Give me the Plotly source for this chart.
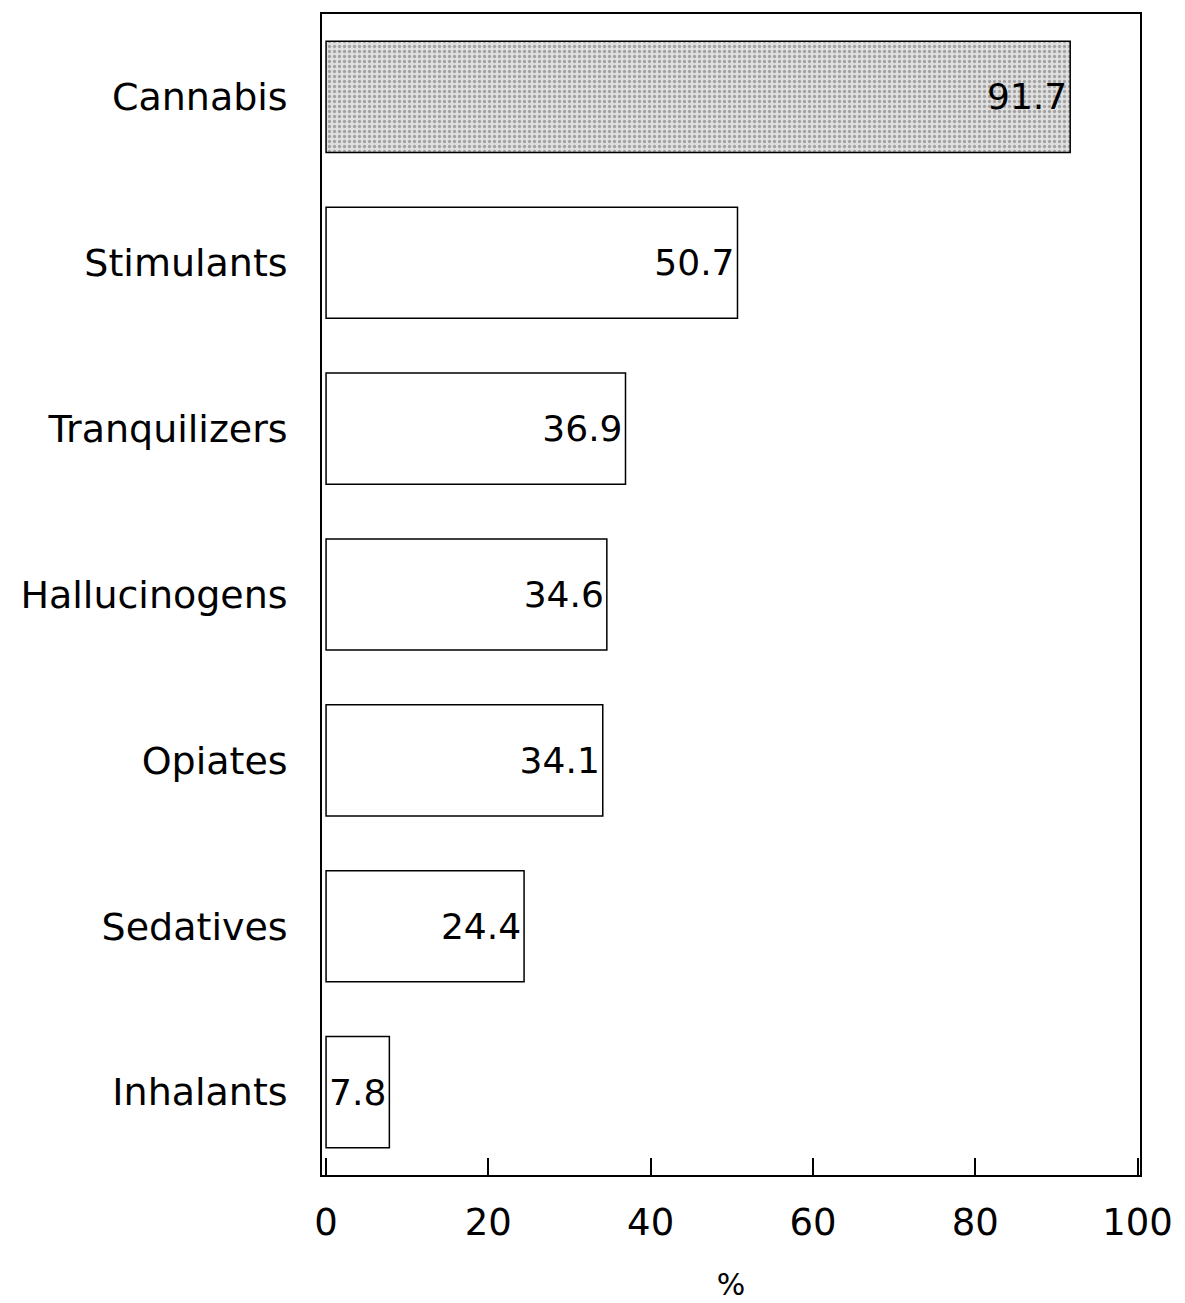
import plotly.graph_objects as go

categories = ["Cannabis", "Stimulants", "Tranquilizers", "Hallucinogens",
              "Opiates", "Sedatives", "Inhalants"]
values = [91.7, 50.7, 36.9, 34.6, 34.1, 24.4, 7.8]
value_labels = ["91.7", "50.7", "36.9", "34.6", "34.1", "24.4", "7.8"]
x_ticks = [0, 20, 40, 60, 80, 100]
x_title = "%"

shapes_list = ["." if c == "Cannabis" else "" for c in categories]

fig = go.Figure(go.Bar(
    y=categories,
    x=values,
    orientation="h",
    text=value_labels,
    textposition="inside",
    insidetextanchor="end",
    constraintext="none",
    textfont=dict(family="DejaVu Sans", size=36, color="black"),
    width=0.67,
    marker=dict(
        color="white",
        line=dict(color="black", width=1.5),
        pattern=dict(shape=shapes_list, fgcolor="#666666", bgcolor="#e0e0e0",
                     size=5, solidity=0.35),
    ),
    hoverinfo="skip",
))

fig.update_layout(
    width=1169, height=1311,
    margin=dict(l=314, r=36, t=4, b=144),
    paper_bgcolor="white", plot_bgcolor="white",
    showlegend=False,
    font=dict(family="DejaVu Sans", color="black"),
)
fig.update_xaxes(
    range=[-0.5, 100.3], tickvals=x_ticks, ticktext=[str(t) for t in x_ticks],
    ticks="inside", ticklen=17, tickwidth=1.5, tickcolor="black",
    showline=True, linecolor="black", linewidth=1.5, mirror=True,
    showgrid=False, zeroline=False,
    tickfont=dict(family="DejaVu Sans", size=37),
    ticklabelstandoff=14,
    title=dict(text=x_title, font=dict(family="DejaVu Sans", size=30), standoff=31),
)
fig.update_yaxes(
    categoryorder="array", categoryarray=categories, autorange=False,
    range=[6.5, -0.5],
    showline=True, linecolor="black", linewidth=1.5, mirror=True,
    showgrid=False, zeroline=False, ticks="",
    tickfont=dict(family="DejaVu Sans", size=38),
    ticklabelstandoff=25,
)

fig.write_html("out.html")
